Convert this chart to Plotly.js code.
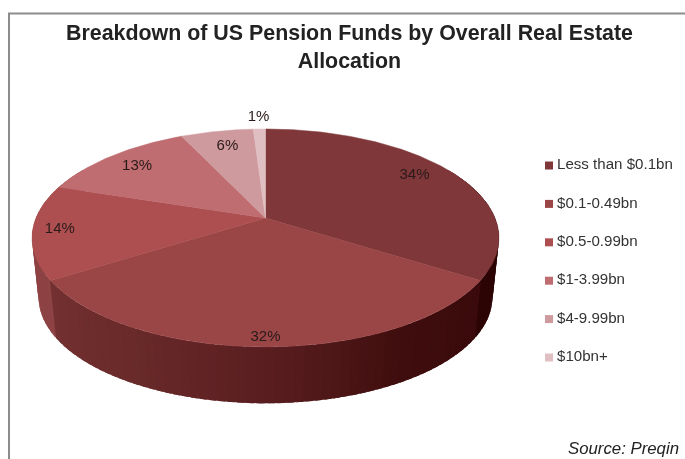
<!DOCTYPE html>
<html>
<head>
<meta charset="utf-8">
<script src="https://cdn.plot.ly/plotly-3.0.1.min.js"></script>
<style>html,body{margin:0;padding:0;background:#fff;overflow:hidden}</style>
</head>
<body>
<div id="chart" style="width:685px;height:459px;filter:blur(0.3px)"></div>
<script>
// Data
var categories = ['Less than $0.1bn', '$0.1-0.49bn', '$0.5-0.99bn', '$1-3.99bn', '$4-9.99bn', '$10bn+'];
var shares = [34, 32, 14, 13, 6, 1];

// Style
var sliceColors = ['#7f3739', '#9b4646', '#ad4f50', '#bf6d70', '#cf9a9d', '#e0bfc3'];
var labelRadius = [0.828, 0.935, 0.885, 0.82, 0.80, 1.165];
var labelShift = [-3.3, 0, 0.5, 0, 0.7, 0];
var sideStops = [[60,'#2a0303'],[122,'#2c0404'],[123,'#3a0a0c'],[150,'#3f0d0d'],[180,'#5a1e20'],[210,'#6a2a2a'],[237,'#733031'],[238,'#8d4243'],[270,'#8f4344'],[300,'#8f4344']];
var FONT = 'Liberation Sans, Arial, sans-serif';

// Projection of the tilted disc
var CX = 265.5, TOPY = 218, BOTY = 278, R = 229.5, H = 105.3, K = 0.183, SHRINK = 0.972;
function proj(thetaDeg, r, low) {
  var a = thetaDeg * Math.PI / 180, u = r * Math.sin(a), v = r * Math.cos(a), t = 1 / (1 + K * v);
  var s = low ? SHRINK : 1;
  return [CX + R * s * u * t, (low ? BOTY : TOPY) - H * s * v * t];
}
function hex(c){return [1,3,5].map(function(i){return parseInt(c.substr(i,2),16);});}
function sideColor(th){
  for (var i=0;i<sideStops.length-1;i++){
    var a=sideStops[i],b=sideStops[i+1];
    if(th>=a[0]&&th<=b[0]){
      var f=(th-a[0])/(b[0]-a[0]),ca=hex(a[1]),cb=hex(b[1]);
      return 'rgb('+ca.map(function(x,k){return Math.round(x+(cb[k]-x)*f);}).join(',')+')';
    }
  }
  return sideStops[sideStops.length-1][1];
}
var traces = [];
function strip(t0,t1,mid){
  var a=proj(t0,1,false),b=proj(t1,1,false),c=proj(t1,1,true),d=proj(t0,1,true);
  traces.push({type:'scatter',mode:'lines',x:[a[0],b[0],c[0],d[0],a[0]],y:[a[1],b[1],c[1],d[1],a[1]],
    fill:'toself',fillcolor:sideColor(mid),line:{width:0},hoverinfo:'skip',showlegend:false});
}
var step=2,th;
for(th=60;th<180;th+=step) strip(th,th+step+1.5,th+step/2);
for(th=300;th>180;th-=step) strip(Math.max(th-step-1.5,180),th,th-step/2);

// Top faces
var total = shares.reduce(function(a,b){return a+b;},0), cum=0, lx=[], ly=[], lt=[];
shares.forEach(function(s,i){
  var t0=cum/total*360, t1=(cum+s)/total*360, xs=[CX], ys=[TOPY];
  for(var t=t0;t<t1;t+=0.5){var p=proj(t,1,false);xs.push(p[0]);ys.push(p[1]);}
  var pe=proj(t1,1,false);xs.push(pe[0]);ys.push(pe[1]);xs.push(CX);ys.push(TOPY);
  traces.push({type:'scatter',mode:'lines',x:xs,y:ys,fill:'toself',fillcolor:sliceColors[i],
    line:{color:sliceColors[i],width:0.5},name:categories[i],hoverinfo:'name',showlegend:false});
  var lp=proj((t0+t1)/2+labelShift[i],labelRadius[i],false);
  lx.push(lp[0]);ly.push(lp[1]);lt.push(s+'%');
  cum+=s;
});
traces.push({type:'scatter',mode:'text',x:lx,y:ly,text:lt,textposition:'middle center',
  textfont:{family:FONT,size:15,color:'#2a1a1a'},hoverinfo:'skip',showlegend:false});

// Key
var KEYX = 549, KEYTEXTX = 557, KEYY0 = 165.5, KEYSTEP = 38.4;
var keyY = categories.map(function(c,i){return KEYY0+i*KEYSTEP;});
traces.push({type:'scatter',mode:'markers',x:categories.map(function(){return KEYX;}),y:keyY,
  marker:{symbol:'square',size:8,color:sliceColors,line:{width:0}},hoverinfo:'skip',showlegend:false});
traces.push({type:'scatter',mode:'text',x:categories.map(function(){return KEYTEXTX;}),y:keyY,
  text:categories,textposition:'middle right',
  textfont:{family:FONT,size:15.1,color:'#333333'},hoverinfo:'skip',showlegend:false});

var layout = {
  width:685,height:459,margin:{l:0,r:0,t:0,b:0},paper_bgcolor:'#fff',plot_bgcolor:'#fff',showlegend:false,
  xaxis:{range:[0,685],visible:false,fixedrange:true},
  yaxis:{range:[459,0],visible:false,fixedrange:true},
  title:{text:'Breakdown of US Pension Funds by Overall Real Estate<br>Allocation',
    font:{family:FONT,size:21.4,color:'#222222',weight:'bold'},
    x:0.5102,xanchor:'center',y:0.913,yanchor:'top',xref:'paper',yref:'container'},
  shapes:[{type:'line',x0:9,x1:9,y0:13,y1:459,line:{color:'#8c8c8c',width:2}},
          {type:'line',x0:8,x1:685,y0:13.5,y1:13.5,line:{color:'#8c8c8c',width:2}}],
  annotations:[{text:'Source: Preqin',xref:'x',yref:'y',x:681,y:448,xanchor:'right',yanchor:'middle',showarrow:false,
    font:{family:FONT,size:16.8,color:'#222222',style:'italic'}}]
};
Plotly.newPlot('chart',traces,layout,{displayModeBar:false,staticPlot:true});
</script>
</body>
</html>
